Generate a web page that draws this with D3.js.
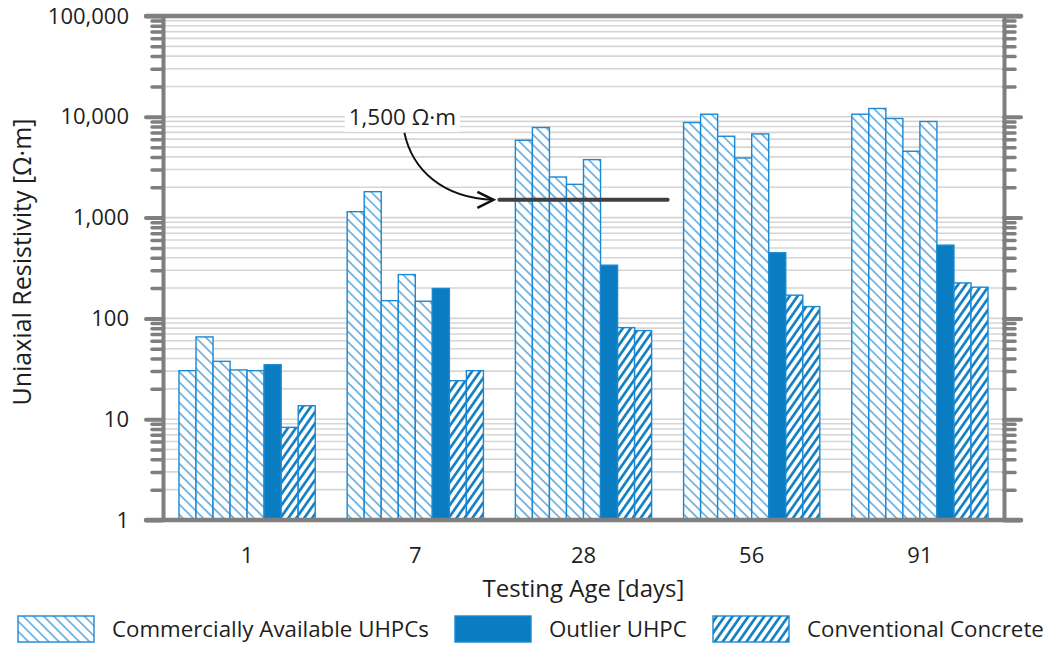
<!DOCTYPE html>
<html>
<head>
<meta charset="utf-8">
<script src="https://cdn.jsdelivr.net/npm/d3@7"></script>
<style>
  html, body { margin: 0; padding: 0; background: #fff; }
  svg { display: block; font-family: "Open Sans", sans-serif; }
</style>
</head>
<body>
<div id="chart"></div>
<script>
// testing ages (x categories)
const ages = ["1", "7", "28", "56", "91"];

// commercially available UHPC mixes, resistivity by age [Ω·m]
const uhpcA = [30.3, 1145, 5850, 8775, 10610];
const uhpcB = [65.5, 1808, 7830, 10610, 12090];
const uhpcC = [37.5, 150, 2528, 6413, 9618];
const uhpcD = [30.8, 272, 2138, 3902, 4550];
const uhpcE = [30.3, 148, 3760, 6761, 8980];

// outlier UHPC
const outlierUHPC = [34.7, 198, 337, 448, 533];

// conventional concrete mixes
const concreteA = [8.3, 24.1, 81, 170, 225];
const concreteB = [13.6, 30.3, 75.7, 131, 204];

// y axis ticks
const yMajorTicks = [1, 10, 100, 1000, 10000, 100000];

// threshold line
const threshold = 1500;
const thresholdAge = "28";

const legendLabels = ["Commercially Available UHPCs", "Outlier UHPC", "Conventional Concrete"];

const series = [
  { values: uhpcA, kind: "uhpc" },
  { values: uhpcB, kind: "uhpc" },
  { values: uhpcC, kind: "uhpc" },
  { values: uhpcD, kind: "uhpc" },
  { values: uhpcE, kind: "uhpc" },
  { values: outlierUHPC, kind: "outlier" },
  { values: concreteA, kind: "concrete" },
  { values: concreteB, kind: "concrete" }
];

const width = 1048;
const height = 646;
const plot = { left: 163, right: 1004, top: 16, bottom: 520 };

const BLUE = "#0a7cc2";
const AXIS = "#7f7f7f";
const GRID = "#d6d6d6";
const TEXT = "#1e1e1e";
const FONT = 22;

const svg = d3.select("#chart").append("svg")
  .attr("width", width)
  .attr("height", height);

const defs = svg.append("defs");

// hatch patterns
function hatch(id, size, angle, stroke, strokeWidth) {
  const p = defs.append("pattern")
    .attr("id", id)
    .attr("patternUnits", "userSpaceOnUse")
    .attr("width", size)
    .attr("height", size)
    .attr("patternTransform", `rotate(${angle})`);
  p.append("rect").attr("width", size).attr("height", size).attr("fill", "#fff");
  p.append("line")
    .attr("x1", size / 2).attr("x2", size / 2)
    .attr("y1", -1).attr("y2", size + 1)
    .attr("stroke", stroke)
    .attr("stroke-width", strokeWidth);
}
hatch("hatch-uhpc", 7.2, -45, "#3a97d8", 1.3);
hatch("hatch-concrete", 6.5, 35, BLUE, 2.6);

const fills = {
  uhpc: "url(#hatch-uhpc)",
  outlier: BLUE,
  concrete: "url(#hatch-concrete)"
};

// scales
const x0 = d3.scaleBand()
  .domain(ages)
  .range([plot.left, plot.right])
  .paddingInner(0.19)
  .paddingOuter(0.095);

const x1 = d3.scaleBand()
  .domain(d3.range(series.length))
  .range([0, x0.bandwidth()]);

const y = d3.scaleLog()
  .domain([1, 100000])
  .range([plot.bottom, plot.top]);

// minor ticks 2..9 per decade
const yMinorTicks = [];
yMajorTicks.slice(0, -1).forEach(d => {
  for (let m = 2; m <= 9; m++) yMinorTicks.push(d * m);
});

// grid
svg.append("g")
  .attr("class", "grid")
  .selectAll("line")
  .data(yMinorTicks.concat(yMajorTicks.slice(1, -1)))
  .join("line")
  .attr("x1", plot.left)
  .attr("x2", plot.right)
  .attr("y1", d => y(d))
  .attr("y2", d => y(d))
  .attr("stroke", GRID)
  .attr("stroke-width", 1.6);

// bars
const groups = svg.append("g")
  .attr("class", "bars")
  .selectAll("g")
  .data(ages)
  .join("g")
  .attr("transform", d => `translate(${x0(d)},0)`);

groups.selectAll("rect")
  .data((age, i) => series.map((s, j) => ({ j, kind: s.kind, value: s.values[i] })))
  .join("rect")
  .attr("x", d => x1(d.j))
  .attr("y", d => y(d.value))
  .attr("width", x1.bandwidth())
  .attr("height", d => y(1) - y(d.value))
  .attr("fill", d => fills[d.kind])
  .attr("stroke", "#1c88d2")
  .attr("stroke-width", 1.4);

// axes
function styleAxis(g, width, cap) {
  g.selectAll(".tick line")
    .attr("stroke", AXIS)
    .attr("stroke-width", width)
    .attr("stroke-linecap", cap);
}

const leftMinor = svg.append("g")
  .attr("transform", `translate(${plot.left},0)`)
  .call(d3.axisLeft(y).tickValues(yMinorTicks).tickSize(11).tickFormat(""));
leftMinor.select(".domain").remove();
styleAxis(leftMinor, 3.5, "round");

const rightMinor = svg.append("g")
  .attr("transform", `translate(${plot.right},0)`)
  .call(d3.axisRight(y).tickValues(yMinorTicks).tickSize(11).tickFormat(""));
rightMinor.select(".domain").remove();
styleAxis(rightMinor, 3.5, "round");

const leftAxis = svg.append("g")
  .attr("transform", `translate(${plot.left},0)`)
  .call(d3.axisLeft(y)
    .tickValues(yMajorTicks)
    .tickSize(17)
    .tickSizeOuter(0)
    .tickPadding(17)
    .tickFormat(d3.format(",")));
leftAxis.select(".domain").attr("stroke", AXIS).attr("stroke-width", 4);
styleAxis(leftAxis, 4, "round");
leftAxis.selectAll("text")
  .attr("fill", TEXT)
  .attr("font-size", FONT)
  .attr("font-family", "Open Sans, sans-serif");

const rightAxis = svg.append("g")
  .attr("transform", `translate(${plot.right},0)`)
  .call(d3.axisRight(y).tickValues(yMajorTicks).tickSize(17).tickSizeOuter(0).tickFormat(""));
rightAxis.select(".domain").attr("stroke", AXIS).attr("stroke-width", 4);
styleAxis(rightAxis, 4, "round");

// frame lines at top and bottom
svg.append("g")
  .selectAll("line")
  .data([y.domain()[0], y.domain()[1]])
  .join("line")
  .attr("x1", plot.left - 17)
  .attr("x2", plot.right + 17)
  .attr("y1", d => y(d))
  .attr("y2", d => y(d))
  .attr("stroke", AXIS)
  .attr("stroke-width", 4.5)
  .attr("stroke-linecap", "round");

// x axis labels
const xAxis = svg.append("g")
  .attr("transform", `translate(0,${plot.bottom})`)
  .call(d3.axisBottom(x0).tickSize(0).tickPadding(27));
xAxis.select(".domain").remove();
xAxis.selectAll("text")
  .attr("fill", TEXT)
  .attr("font-size", FONT)
  .attr("font-family", "Open Sans, sans-serif");

// axis titles
svg.append("text")
  .attr("x", (plot.left + plot.right) / 2)
  .attr("y", 597)
  .attr("text-anchor", "middle")
  .attr("fill", TEXT)
  .attr("font-size", 24)
  .text("Testing Age [days]");

svg.append("text")
  .attr("transform", `translate(31,${(plot.top + plot.bottom) / 2 - 6}) rotate(-90)`)
  .attr("text-anchor", "middle")
  .attr("fill", TEXT)
  .attr("font-size", 25)
  .text("Uniaxial Resistivity [Ω·m]");

// threshold line + annotation
const step = x0.step();
const tx1 = x0(thresholdAge) - (step - x0.bandwidth()) / 2;
const tx2 = x0(thresholdAge) + x0.bandwidth() + (step - x0.bandwidth()) / 2;
const ty = y(threshold);

svg.append("line")
  .attr("x1", tx1)
  .attr("x2", tx2)
  .attr("y1", ty)
  .attr("y2", ty)
  .attr("stroke", "#404040")
  .attr("stroke-width", 4)
  .attr("stroke-linecap", "round");

const ax = tx1 - 6;
const labelX = ax - 91;
const labelY = ty - 75;

const labelBg = svg.append("rect").attr("fill", "#fff");
const label = svg.append("text")
  .attr("x", labelX)
  .attr("y", labelY)
  .attr("text-anchor", "middle")
  .attr("fill", TEXT)
  .attr("font-size", 22.5)
  .text(d3.format(",")(threshold) + " Ω·m");
const bb = label.node().getBBox();
labelBg
  .attr("x", bb.x - 4)
  .attr("y", bb.y)
  .attr("width", bb.width + 8)
  .attr("height", bb.height);

svg.append("path")
  .attr("d", `M${labelX + 2},${labelY + 8} C${labelX + 10},${ty - 30} ${labelX + 40},${ty - 2} ${ax},${ty}`)
  .attr("fill", "none")
  .attr("stroke", "#111")
  .attr("stroke-width", 2);

svg.append("path")
  .attr("d", `M${ax - 16},${ty - 8} L${ax},${ty} L${ax - 16},${ty + 8}`)
  .attr("fill", "none")
  .attr("stroke", "#111")
  .attr("stroke-width", 2.6)
  .attr("stroke-linejoin", "miter");

// legend
const legendX = [18, 455, 713];
const legendKinds = ["uhpc", "outlier", "concrete"];
const legend = svg.append("g")
  .selectAll("g")
  .data(legendLabels)
  .join("g")
  .attr("transform", (d, i) => `translate(${legendX[i]},616)`);

legend.append("rect")
  .attr("width", 76)
  .attr("height", 26)
  .attr("fill", (d, i) => fills[legendKinds[i]])
  .attr("stroke", "#1c88d2")
  .attr("stroke-width", 1.4);

legend.append("text")
  .attr("x", 94)
  .attr("y", 21)
  .attr("fill", TEXT)
  .attr("font-size", 22.3)
  .text(d => d);
</script>
</body>
</html>
